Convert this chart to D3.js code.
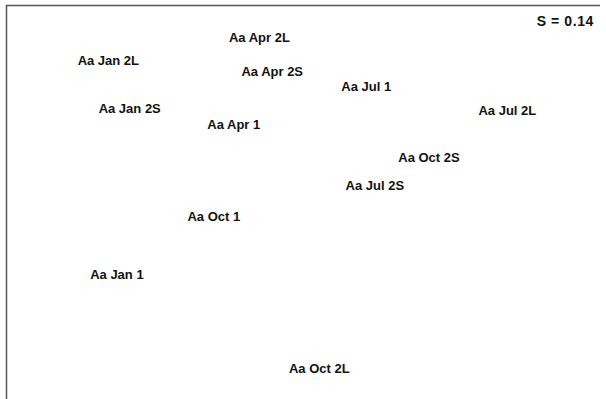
<!DOCTYPE html>
<html>
<head>
<meta charset="utf-8">
<title>MDS ordination</title>
<script src="https://d3js.org/d3.v7.min.js"></script>
<style>
body { margin: 0; background: #fff; }
text { font-family: "Liberation Sans", Arial, sans-serif; font-weight: bold; fill: #111; }
</style>
</head>
<body>
<script>

// sample labels and their ordination coordinates
var samples = ["Aa Apr 2L", "Aa Jan 2L", "Aa Apr 2S", "Aa Jul 1", "Aa Jan 2S", "Aa Jul 2L",
  "Aa Apr 1", "Aa Oct 2S", "Aa Jul 2S", "Aa Oct 1", "Aa Jan 1", "Aa Oct 2L"];
var dim1 = [-0.32, -1.38, -0.23, 0.43, -1.23, 1.42, -0.50, 0.87, 0.49, -0.64, -1.32, 0.10];
var dim2 = [1.71, 1.47, 1.35, 1.20, 0.96, 0.94, 0.80, 0.45, 0.15, -0.17, -0.78, -1.77];
var stress = "S = 0.14";

var width = 606, height = 399;

var svg = d3.select("body").append("svg")
  .attr("width", width)
  .attr("height", height);

var x = d3.scaleLinear().domain([-2, 2]).range([20, 590]);
var y = d3.scaleLinear().domain([-2, 2]).range([390, 10]);

// frame: only top and left edges show
svg.append("path")
  .attr("d", "M6.5,399 V5.5 H600")
  .attr("fill", "none")
  .attr("stroke", "#555")
  .attr("stroke-width", 1.5);

var pts = samples.map(function(s, i) {
  return {name: s, x: dim1[i], y: dim2[i]};
});

svg.selectAll(".lab")
  .data(pts)
  .enter()
  .append("text")
  .attr("class", "lab")
  .attr("x", function(d) { return x(d.x); })
  .attr("y", function(d) { return y(d.y); })
  .attr("text-anchor", "middle")
  .attr("dominant-baseline", "central")
  .style("font-size", "13px")
  .text(function(d) { return d.name; });

svg.append("text")
  .attr("x", 594)
  .attr("y", 21)
  .attr("text-anchor", "end")
  .attr("dominant-baseline", "central")
  .style("font-size", "14px")
  .style("letter-spacing", "0.6px")
  .text(stress);

</script>
</body>
</html>
